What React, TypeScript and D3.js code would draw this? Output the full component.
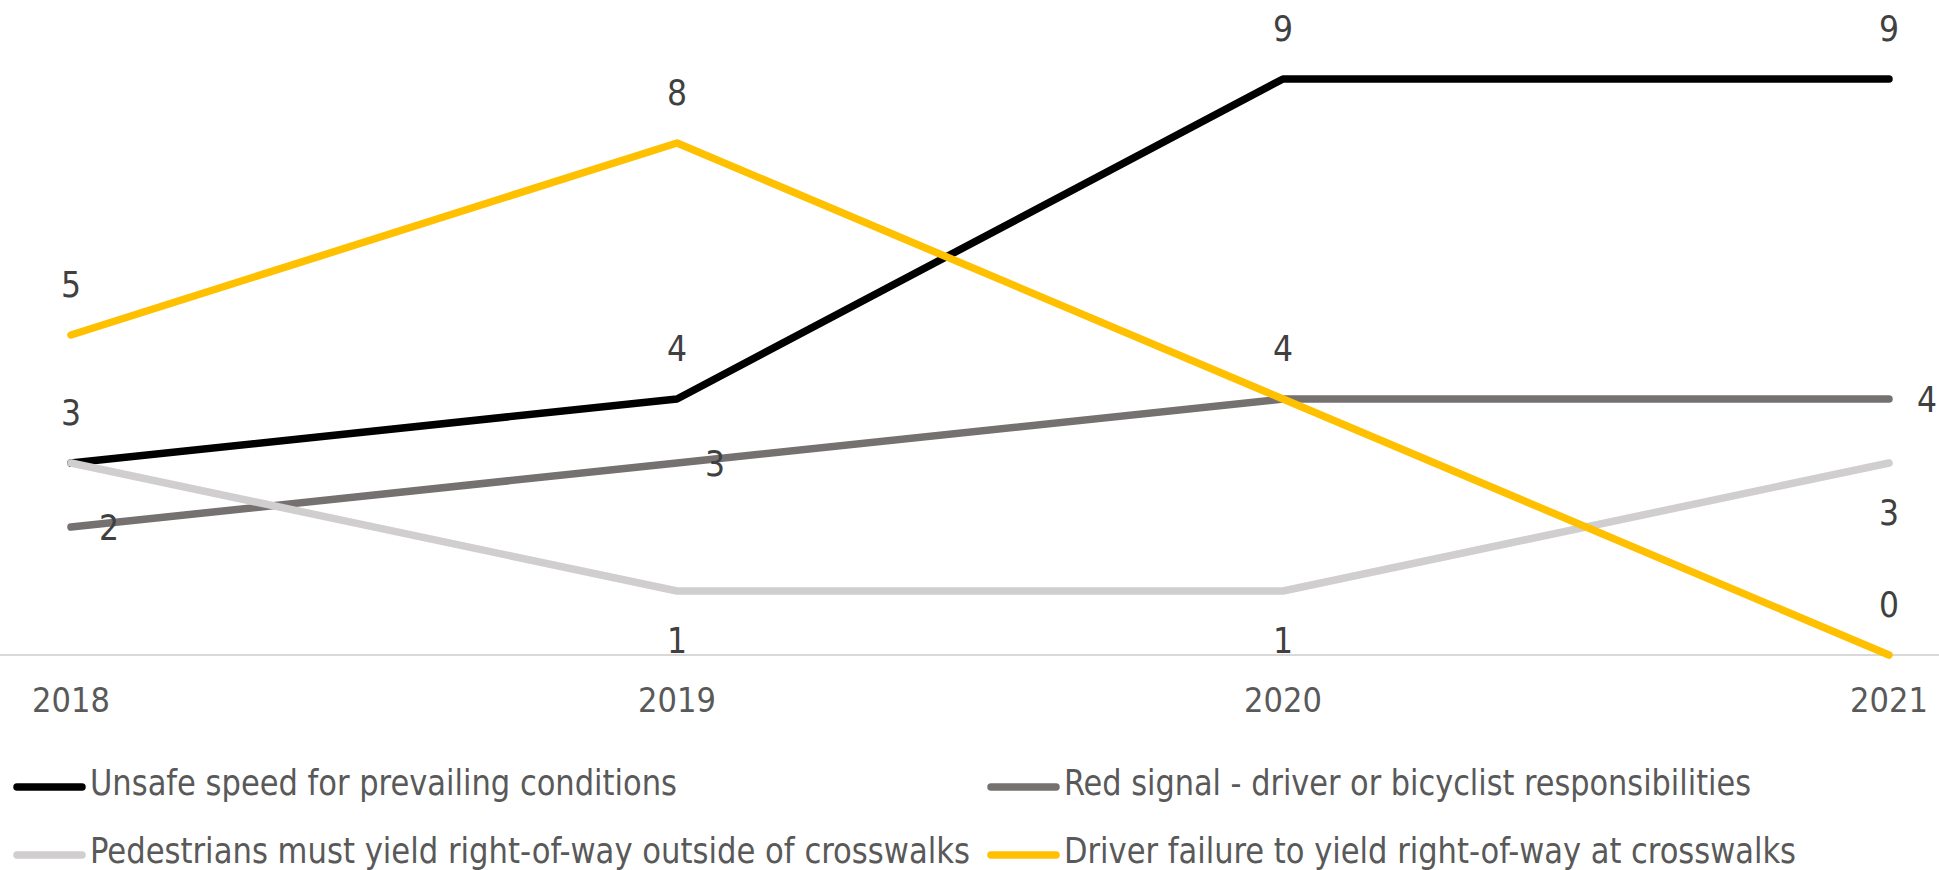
import React from 'react';
import * as d3 from 'd3';

const years = ['2018', '2019', '2020', '2021'];
const seriesNames = [
  'Unsafe speed for prevailing conditions',
  'Red signal - driver or bicyclist responsibilities',
  'Pedestrians must yield right-of-way outside of crosswalks',
  'Driver failure to yield right-of-way at crosswalks',
];
const unsafeSpeed = [3, 4, 9, 9];
const redSignal = [2, 3, 4, 4];
const pedestrians = [3, 1, 1, 3];
const driverFailure = [5, 8, 4, 0];

const colors = ['#000000', '#767171', '#d0cece', '#ffc000'];
// label placement per point (style config)
const labelPlacement: (string | null)[][] = [
  ['above', 'above', 'above', 'above'],
  ['right', 'right', null, 'right'],
  [null, 'below', 'below', 'below'],
  ['above', 'above', 'above', 'above'],
];
const legendWidths = [587, 687, 880, 732];

const W = 1939;
const H = 870;
const FONT = "'DejaVu Sans Condensed', 'Liberation Sans Narrow', 'DejaVu Sans', sans-serif";

export default function App() {
  const allSeries = [unsafeSpeed, redSignal, pedestrians, driverFailure];
  const x = d3.scalePoint<string>().domain(years).range([71, 1889]);
  const y = d3.scaleLinear().domain([0, 9]).range([655, 79]);
  const line = d3
    .line<number>()
    .x((_, i) => x(years[i]) as number)
    .y((d) => y(d));

  const labelOffset = (pos: string) => {
    if (pos === 'above') return { dx: 0, dy: -50, anchor: 'middle' };
    if (pos === 'below') return { dx: 0, dy: 50, anchor: 'middle' };
    return { dx: 28, dy: 1, anchor: 'start' };
  };

  const legendCols = [13, 987];
  const legendRows = [787, 855];

  return (
    <svg
      width={W}
      height={H}
      style={{ position: 'absolute', left: 0, top: 0, background: '#ffffff' }}
      fontFamily={FONT}
    >
      <rect x={0} y={0} width={W} height={H} fill="#ffffff" />
      {/* category axis line */}
      <line x1={0} x2={W} y1={y(0)} y2={y(0)} stroke="#d9d9d9" strokeWidth={2} />
      {/* x tick labels */}
      {years.map((yr) => (
        <text
          key={yr}
          x={x(yr)}
          y={712}
          textAnchor="middle"
          fontSize={34}
          fill="#595959"
        >
          {yr}
        </text>
      ))}
      {/* lines */}
      {allSeries.map((s, si) => (
        <path
          key={si}
          d={line(s) || ''}
          fill="none"
          stroke={colors[si]}
          strokeWidth={7.5}
          strokeLinecap="round"
          strokeLinejoin="round"
        />
      ))}
      {/* data labels */}
      {allSeries.map((s, si) =>
        s.map((v, i) => {
          const pos = labelPlacement[si][i];
          if (!pos) return null;
          const o = labelOffset(pos);
          return (
            <text
              key={`${si}-${i}`}
              x={(x(years[i]) as number) + o.dx}
              y={y(v) + o.dy}
              textAnchor={o.anchor}
              dominantBaseline="central"
              fontSize={35}
              fill="#404040"
            >
              {v}
            </text>
          );
        })
      )}
      {/* legend */}
      {seriesNames.map((name, si) => {
        const col = si % 2;
        const row = Math.floor(si / 2);
        const lx = legendCols[col];
        const ly = legendRows[row];
        return (
          <g key={name}>
            <line
              x1={lx + 4}
              x2={lx + 69}
              y1={ly}
              y2={ly}
              stroke={colors[si]}
              strokeWidth={7.5}
              strokeLinecap="round"
            />
            <text
              x={lx + 77}
              y={ly + 8}
              fontSize={36}
              fill="#595959"
              textLength={legendWidths[si]}
              lengthAdjust="spacingAndGlyphs"
            >
              {name}
            </text>
          </g>
        );
      })}
    </svg>
  );
}
